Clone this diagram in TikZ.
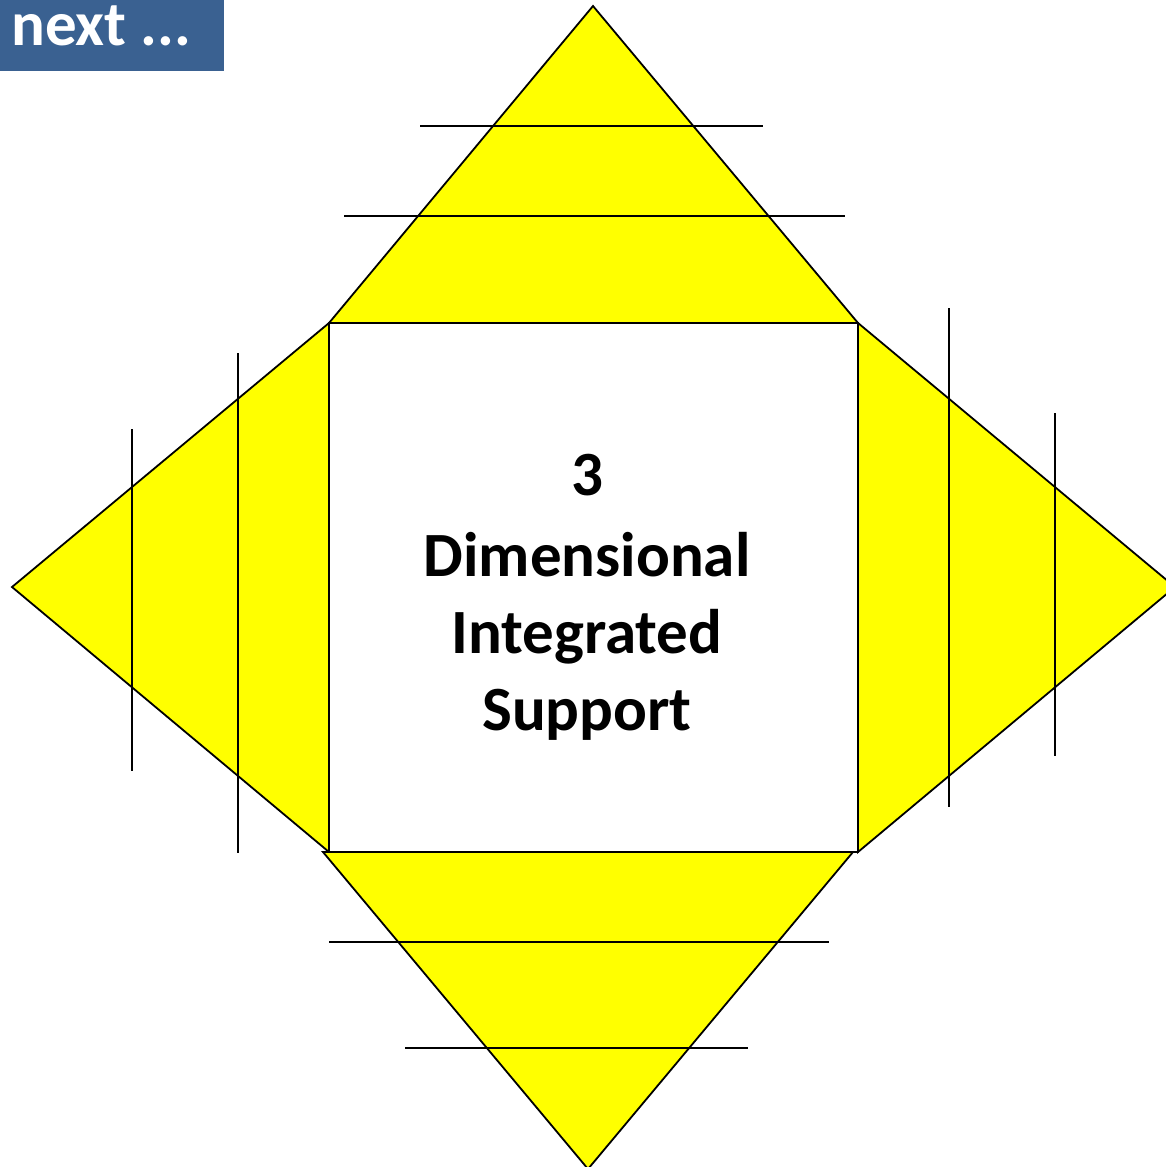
\documentclass[tikz,border=0pt]{standalone}
\usepackage{fontspec}
\setmainfont{Carlito}
\definecolor{boxblue}{HTML}{3A6191}
\definecolor{tri}{HTML}{FFFF00}
\begin{document}
\begin{tikzpicture}[x=1pt,y=-1pt,
  trishape/.style={fill=tri,draw=black,line width=1.8pt,line join=miter},
  sq/.style={fill=white,draw=black,line width=1.8pt},
  bar/.style={draw=black,line width=1.8pt},
  lbl/.style={font=\fontsize{63}{77}\selectfont\bfseries,anchor=base,inner sep=0pt}]
\useasboundingbox (0,0) rectangle (1166,1167);
\begin{scope}
\clip (0,0) rectangle (1166,1167);
% corners
\coordinate (A) at (329,323);
\coordinate (B) at (858,323);
\coordinate (C) at (858,852);
\coordinate (D) at (329,852);
% triangles
\draw[trishape] (A) -- (593,6) -- (B) -- cycle;
\draw[trishape] (B) -- (1175,587) -- (C) -- cycle;
\draw[trishape] (A) -- (12,587) -- (D) -- cycle;
\draw[trishape] (323,852) -- (588,1169) -- (853,852) -- cycle;
\draw[sq] (A) rectangle (C);
% bars
\draw[bar] (420,126) -- (763,126);
\draw[bar] (344,216) -- (845,216);
\draw[bar] (132,429) -- (132,771);
\draw[bar] (238,353) -- (238,853);
\draw[bar] (949,308) -- (949,807);
\draw[bar] (1055,413) -- (1055,756);
\draw[bar] (329,942) -- (829,942);
\draw[bar] (405,1048) -- (748,1048);
\end{scope}
% next box
\fill[boxblue] (0,0) rectangle (224,71);
\node[anchor=base west,inner sep=0pt,text=white,font=\fontsize{63}{70}\selectfont\bfseries] (next) at (11,45) {next ...};
% center text
\node[lbl] (l1) at (587,495) {3};
\node[lbl] (l2) at (587,576) {Dimensional};
\node[lbl] (l3) at (587,653) {Integrated};
\node[lbl] (l4) at (587,730) {Support};
\end{tikzpicture}
\end{document}
